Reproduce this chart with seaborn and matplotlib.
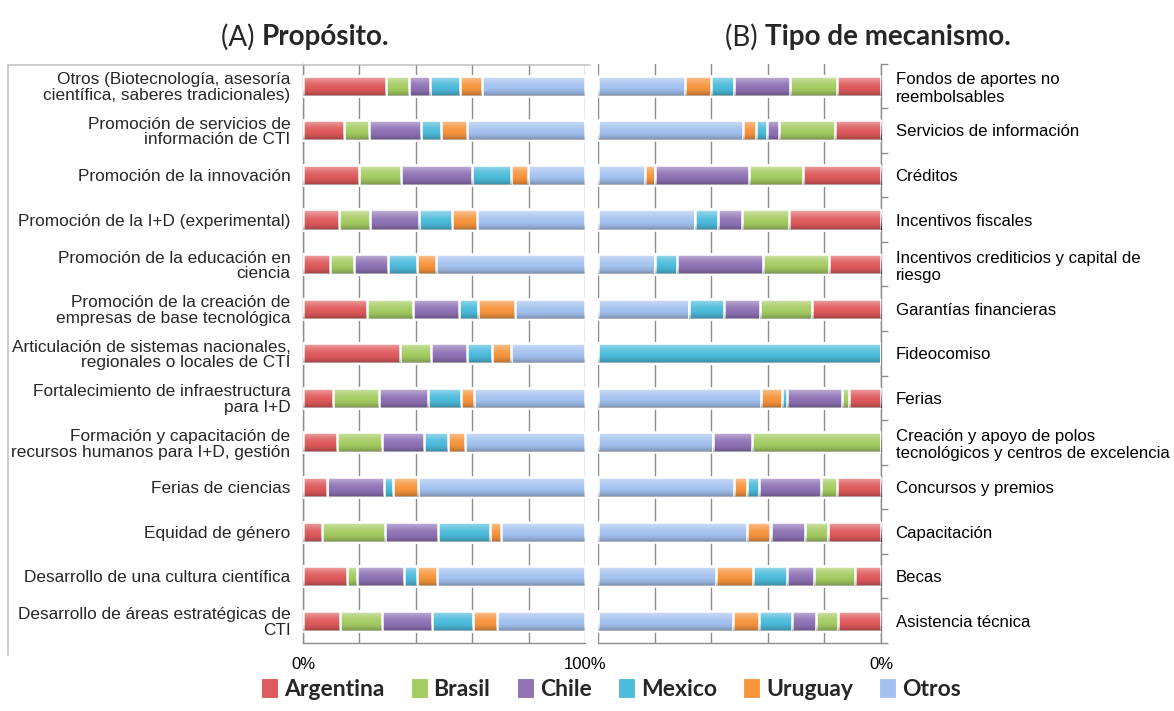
import numpy as np
import pandas as pd
import matplotlib
matplotlib.use("Agg")
import matplotlib.pyplot as plt
import seaborn as sns
from matplotlib.lines import Line2D
from matplotlib.patches import Patch

# ---- data -------------------------------------------------------------
series = ["Argentina", "Brasil", "Chile", "Mexico", "Uruguay", "Otros"]
colors = ["#DE5A5C", "#A5CC63", "#8F73B5", "#4DBBDB", "#F7953F", "#A4C2EF"]

proposito = [
    "Otros (Biotecnología, asesoría\ncientífica, saberes tradicionales)",
    "Promoción de servicios de\ninformación de CTI",
    "Promoción de la innovación",
    "Promoción de la I+D (experimental)",
    "Promoción de la educación en\nciencia",
    "Promoción de la creación de\nempresas de base tecnológica",
    "Articulación de sistemas nacionales,\nregionales o locales de CTI",
    "Fortalecimiento de infraestructura\npara I+D",
    "Formación y capacitación de\nrecursos humanos para I+D, gestión",
    "Ferias de ciencias",
    "Equidad de género",
    "Desarrollo de una cultura científica",
    "Desarrollo de áreas estratégicas de\nCTI",
]
a_argentina = [29.3, 14.4, 19.7, 12.6, 9.5, 22.6, 34.4, 10.5, 11.9, 8.4, 6.6, 15.5, 13.0]
a_brasil    = [8.2, 8.9, 14.9, 11.1, 8.5, 16.3, 10.9, 16.4, 16.0, 0.0, 22.5, 3.5, 14.9]
a_chile     = [7.6, 18.4, 25.5, 17.5, 12.1, 16.3, 12.8, 17.6, 15.0, 20.2, 18.7, 16.7, 17.8]
a_mexico    = [10.4, 7.1, 13.8, 11.5, 10.3, 6.9, 8.9, 11.5, 8.4, 3.2, 18.6, 4.6, 14.5]
a_uruguay   = [7.9, 9.2, 6.0, 8.9, 6.9, 13.0, 6.9, 4.8, 6.0, 9.0, 3.8, 7.1, 8.5]
a_otros     = [36.6, 42.0, 20.1, 38.4, 52.7, 24.9, 26.1, 39.2, 42.7, 59.2, 29.8, 52.6, 31.3]

mecanismo = [
    "Fondos de aportes no\nreembolsables",
    "Servicios de información",
    "Créditos",
    "Incentivos fiscales",
    "Incentivos crediticios y capital de\nriesgo",
    "Garantías financieras",
    "Fideocomiso",
    "Ferias",
    "Creación y apoyo de polos\ntecnológicos y centros de excelencia",
    "Concursos y premios",
    "Capacitación",
    "Becas",
    "Asistencia técnica",
]
b_argentina = [15.7, 16.4, 27.7, 32.6, 18.3, 24.3, 0.0, 11.2, 0.0, 15.7, 18.8, 9.3, 15.1]
b_brasil    = [16.3, 19.8, 19.1, 16.6, 23.4, 18.5, 0.0, 2.7, 45.7, 5.5, 8.1, 14.3, 7.8]
b_chile     = [19.9, 4.0, 33.0, 8.5, 30.4, 12.6, 0.0, 19.2, 13.5, 21.8, 11.9, 9.5, 8.5]
b_mexico    = [8.1, 3.9, 0.0, 8.1, 7.7, 12.4, 100.0, 1.9, 0.0, 4.4, 0.5, 12.0, 11.7]
b_uruguay   = [9.1, 4.8, 3.5, 0.0, 0.0, 0.0, 0.0, 7.5, 0.0, 4.5, 8.2, 13.1, 9.2]
b_otros     = [30.9, 51.1, 16.7, 34.2, 20.2, 32.2, 0.0, 57.5, 40.8, 48.1, 52.5, 41.8, 47.7]

table_a = [a_argentina, a_brasil, a_chile, a_mexico, a_uruguay, a_otros]
table_b = [b_argentina, b_brasil, b_chile, b_mexico, b_uruguay, b_otros]

# ---- style ------------------------------------------------------------
sns.set_style("white")
plt.rcParams["font.family"] = ["Liberation Sans", "DejaVu Sans"]
GRAY = "#8c8c8c"

W, H = 1174, 711
fig = plt.figure(figsize=(W / 100, H / 100), dpi=100)
ax_a = fig.add_axes([303 / W, 1 - 643 / H, 282 / W, 579.5 / H])
ax_b = fig.add_axes([598 / W, 1 - 643 / H, 283 / W, 579.5 / H])

# vertical shading used to give the bars a glossy look
t = np.linspace(0, 1, 64)
gloss = np.zeros((64, 1, 4))
white_a = 0.55 * np.clip(1 - t / 0.6, 0, 1) ** 1.4
black_a = 0.28 * np.clip((t - 0.6) / 0.4, 0, 1) ** 1.5
gloss[:, 0, :3] = np.where(white_a[:, None] > 0, 1.0, 0.0)
gloss[:, 0, 3] = np.maximum(white_a, black_a)


def draw_panel(ax, cats, table, label_size):
    df = pd.DataFrame(np.array(table).T, columns=series)
    df["cat"] = cats
    cum = df[series].cumsum(axis=1)
    z = 2
    # longest cumulative bar first so the shorter ones sit on top
    for k in range(len(series) - 1, -1, -1):
        d = pd.DataFrame({"cat": cats, "value": cum[series[k]].values})
        before = len(ax.patches)
        sns.barplot(data=d, x="value", y="cat", order=cats, orient="h",
                    color=colors[k], saturation=1, width=0.45, errorbar=None,
                    edgecolor="white", linewidth=1.8, ax=ax, zorder=z)
        for p in list(ax.patches)[before:]:
            p.set_zorder(z)
            x0, y0, w, h = p.get_x(), p.get_y(), p.get_width(), p.get_height()
            if w > 0:
                im = ax.imshow(gloss, extent=(x0, x0 + w, y0 + h, y0),
                               origin="upper", aspect="auto",
                               interpolation="bilinear", zorder=z + 0.5)
                im.set_clip_path(p)
        z += 1

    n = len(cats)
    ax.set_ylim(n - 0.5, -0.5)
    ax.set_xlabel("")
    ax.set_ylabel("")
    ax.set_xticks([0, 20, 40, 60, 80, 100])
    ax.xaxis.grid(True, color=GRAY, lw=1.0)
    ax.yaxis.grid(False)
    ax.set_axisbelow(True)
    ax.set_yticks(np.arange(-0.5, n, 1), minor=True)
    ax.tick_params(axis="y", which="major", length=0, labelsize=label_size)
    ax.tick_params(axis="y", which="minor", length=5, color=GRAY, width=1)
    ax.tick_params(axis="x", which="major", length=5, color=GRAY, width=1,
                   labelsize=12, pad=5)
    for lab in ax.get_yticklabels():
        lab.set_linespacing(1.05)
    for s in ax.spines.values():
        s.set_color(GRAY)
        s.set_linewidth(1.0)


draw_panel(ax_a, proposito, table_a, 12.4)
ax_a.set_xlim(0, 100)
ax_a.set_xticklabels(["0%", "", "", "", "", "100%"])
ax_a.spines["top"].set_visible(False)
ax_a.spines["right"].set_visible(False)
ax_a.tick_params(axis="y", which="major", pad=9)

draw_panel(ax_b, mecanismo, table_b, 12.1)
ax_b.set_xlim(100, 0)
ax_b.set_xticklabels(["0%", "", "", "", "", ""])
ax_b.yaxis.tick_right()
ax_b.spines["top"].set_visible(False)
ax_b.spines["left"].set_visible(False)
ax_b.tick_params(axis="y", which="major", pad=10.5, length=0)
ax_b.tick_params(axis="y", which="minor", length=5)
for lab in ax_b.get_xticklabels() + ax_b.get_yticklabels() + ax_a.get_xticklabels():
    lab.set_color("black")

# light frame around the left panel
fig.add_artist(Line2D([8 / W, 590 / W], [1 - 65 / H, 1 - 65 / H],
                      transform=fig.transFigure, color="#c4c4c4", lw=1.2))
fig.add_artist(Line2D([8 / W, 8 / W], [1 - 65 / H, 1 - 655 / H],
                      transform=fig.transFigure, color="#c4c4c4", lw=1.2))

# panel titles: regular letter tag + bold caption
title_font = ["Lato", "DejaVu Sans"]
fig.canvas.draw()
renderer = fig.canvas.get_renderer()


def panel_title(cx, tag, caption):
    y = 1 - 37 / H
    t1 = fig.text(0, y, tag + " ", fontsize=20, family=title_font, va="center")
    t2 = fig.text(0, y, caption, fontsize=20, family=title_font,
                  fontweight="bold", va="center")
    w1 = t1.get_window_extent(renderer).width
    w2 = t2.get_window_extent(renderer).width
    x0 = cx - (w1 + w2) / 2
    t1.set_x(x0 / W)
    t2.set_x((x0 + w1) / W)


panel_title(305, "(A)", "Propósito.")
panel_title(868, "(B)", "Tipo de mecanismo.")

# legend
handles = [Patch(facecolor=c, edgecolor="white", linewidth=0.8) for c in colors]
fig.legend(handles, series, loc="center", bbox_to_anchor=(611 / W, 22 / H),
           ncol=6, frameon=False, handlelength=0.75, handleheight=0.95,
           handletextpad=0.25, columnspacing=1.15,
           prop={"family": title_font, "weight": "bold", "size": 16.5})

fig.savefig("out.png", dpi=100)
